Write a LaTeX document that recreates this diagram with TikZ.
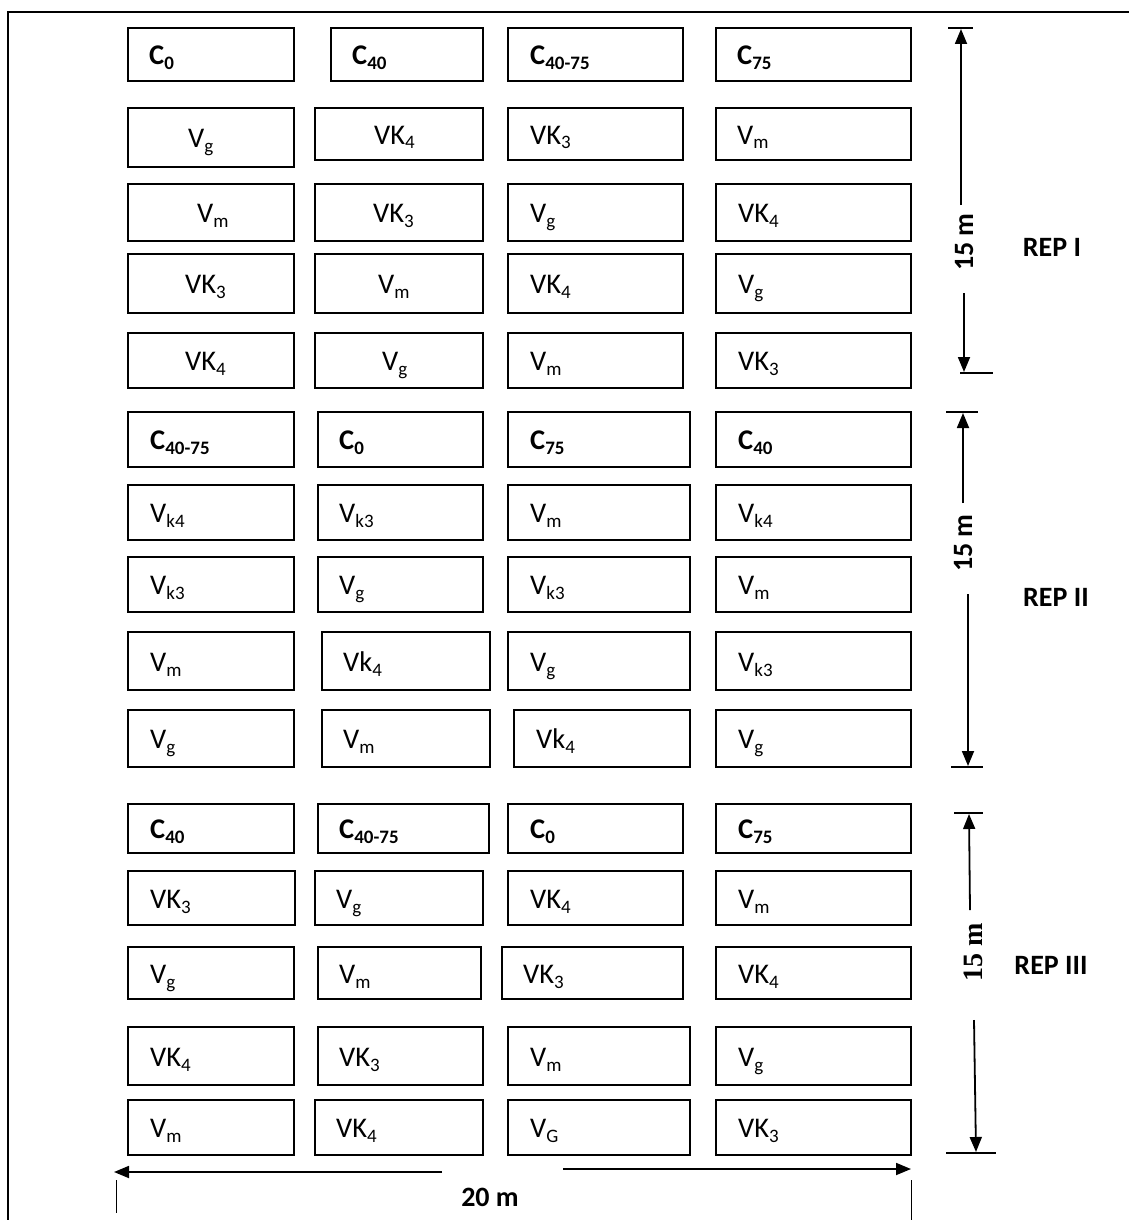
\documentclass[tikz,border=0pt]{standalone}
\usepackage{fontspec}
\setmainfont{Carlito}
\newfontfamily\serifbold{Liberation Serif}
\usetikzlibrary{arrows.meta}
\newcommand\lowtx[1]{\raisebox{-5pt}{\fontsize{19}{19}\selectfont #1}}
\newcommand\pbox[7]{%
  \node[plotbox, minimum width={#4-#2}, minimum height={#5-#3}] (#1) at ({(#2+#4)/2},{(#3+#5)/2}) {};
  \node[lbl] (#1t) at (#6,{(#3+#5)/2+10}) {#7};
}
\tikzset{
  plotbox/.style={draw, line width=1.6pt, inner sep=0pt, outer sep=0pt},
  lbl/.style={anchor=base west, inner sep=0pt, font=\fontsize{28.5}{32}\selectfont},
  dimarrow/.style={line width=1.8pt, -{Triangle[length=15pt,width=12pt]}},
  tickline/.style={line width=1.4pt},
  boldlbl/.style={inner sep=0pt, font=\fontsize{28}{31}\selectfont\bfseries}
}
\begin{document}
\begin{tikzpicture}[x=1pt,y=-1pt]
\useasboundingbox (0,0) rectangle (1129,1220);
% frame
\draw[line width=1.5pt] (8,1220) -- (8,12) -- (1129,12);

% ---------------- REP I ----------------
\pbox{Ia1}{128}{28}{294}{81}{149}{\textbf{C\lowtx{0}}}
\pbox{Ia2}{331}{28}{483}{81}{352}{\textbf{C\lowtx{40}}}
\pbox{Ia3}{508}{28}{683}{81}{530}{\textbf{C\lowtx{40-75}}}
\pbox{Ia4}{716}{28}{911}{81}{737}{\textbf{C\lowtx{75}}}

\pbox{Ib1}{128}{108}{294}{167}{188}{V\lowtx{g}}
\pbox{Ib2}{315}{108}{483}{160}{374}{VK\lowtx{4}}
\pbox{Ib3}{508}{108}{683}{160}{530}{VK\lowtx{3}}
\pbox{Ib4}{716}{108}{911}{160}{737}{V\lowtx{m}}

\pbox{Ic1}{128}{184}{294}{241}{197}{V\lowtx{m}}
\pbox{Ic2}{315}{184}{483}{241}{373}{VK\lowtx{3}}
\pbox{Ic3}{508}{184}{683}{241}{530}{V\lowtx{g}}
\pbox{Ic4}{716}{184}{911}{241}{738}{VK\lowtx{4}}

\pbox{Id1}{128}{254}{294}{313}{185}{VK\lowtx{3}}
\pbox{Id2}{315}{254}{483}{313}{378}{V\lowtx{m}}
\pbox{Id3}{508}{254}{683}{313}{530}{VK\lowtx{4}}
\pbox{Id4}{716}{254}{911}{313}{738}{V\lowtx{g}}

\pbox{Ie1}{128}{333}{294}{388}{185}{VK\lowtx{4}}
\pbox{Ie2}{315}{333}{483}{388}{382}{V\lowtx{g}}
\pbox{Ie3}{508}{333}{683}{388}{530}{V\lowtx{m}}
\pbox{Ie4}{716}{333}{911}{388}{738}{VK\lowtx{3}}

% ---------------- REP II ----------------
\pbox{IIa1}{128}{412}{294}{467}{150}{\textbf{C\lowtx{40-75}}}
\pbox{IIa2}{318}{412}{483}{467}{339}{\textbf{C\lowtx{0}}}
\pbox{IIa3}{508}{412}{690}{467}{530}{\textbf{C\lowtx{75}}}
\pbox{IIa4}{716}{412}{911}{467}{738}{\textbf{C\lowtx{40}}}

\pbox{IIb1}{128}{485}{294}{540}{150}{V\lowtx{k4}}
\pbox{IIb2}{318}{485}{483}{540}{339}{V\lowtx{k3}}
\pbox{IIb3}{508}{485}{690}{540}{530}{V\lowtx{m}}
\pbox{IIb4}{716}{485}{911}{540}{738}{V\lowtx{k4}}

\pbox{IIc1}{128}{557}{294}{612}{150}{V\lowtx{k3}}
\pbox{IIc2}{318}{557}{483}{612}{339}{V\lowtx{g}}
\pbox{IIc3}{508}{557}{690}{612}{530}{V\lowtx{k3}}
\pbox{IIc4}{716}{557}{911}{612}{738}{V\lowtx{m}}

\pbox{IId1}{128}{632}{294}{690}{150}{V\lowtx{m}}
\pbox{IId2}{322}{632}{490}{690}{343}{Vk\lowtx{4}}
\pbox{IId3}{508}{632}{690}{690}{530}{V\lowtx{g}}
\pbox{IId4}{716}{632}{911}{690}{738}{V\lowtx{k3}}

\pbox{IIe1}{128}{710}{294}{767}{150}{V\lowtx{g}}
\pbox{IIe2}{322}{710}{490}{767}{343}{V\lowtx{m}}
\pbox{IIe3}{514}{710}{690}{767}{536}{Vk\lowtx{4}}
\pbox{IIe4}{716}{710}{911}{767}{738}{V\lowtx{g}}

% ---------------- REP III ----------------
\pbox{IIIa1}{128}{804}{294}{853}{150}{\textbf{C\lowtx{40}}}
\pbox{IIIa2}{318}{804}{489}{853}{339}{\textbf{C\lowtx{40-75}}}
\pbox{IIIa3}{508}{804}{683}{853}{530}{\textbf{C\lowtx{0}}}
\pbox{IIIa4}{716}{804}{911}{853}{738}{\textbf{C\lowtx{75}}}

\pbox{IIIb1}{128}{871}{295}{925}{150}{VK\lowtx{3}}
\pbox{IIIb2}{315}{871}{483}{925}{336}{V\lowtx{g}}
\pbox{IIIb3}{508}{871}{683}{925}{530}{VK\lowtx{4}}
\pbox{IIIb4}{716}{871}{911}{925}{738}{V\lowtx{m}}

\pbox{IIIc1}{128}{947}{294}{999}{150}{V\lowtx{g}}
\pbox{IIIc2}{318}{947}{481}{999}{339}{V\lowtx{m}}
\pbox{IIIc3}{502}{947}{683}{999}{523}{VK\lowtx{3}}
\pbox{IIIc4}{716}{947}{911}{999}{738}{VK\lowtx{4}}

\pbox{IIId1}{128}{1027}{294}{1085}{150}{VK\lowtx{4}}
\pbox{IIId2}{318}{1027}{483}{1085}{339}{VK\lowtx{3}}
\pbox{IIId3}{508}{1027}{690}{1085}{530}{V\lowtx{m}}
\pbox{IIId4}{716}{1027}{911}{1085}{738}{V\lowtx{g}}

\pbox{IIIe1}{128}{1100}{294}{1155}{150}{V\lowtx{m}}
\pbox{IIIe2}{315}{1100}{483}{1155}{336}{VK\lowtx{4}}
\pbox{IIIe3}{508}{1100}{690}{1155}{530}{V\lowtx{G}}
\pbox{IIIe4}{716}{1100}{911}{1155}{738}{VK\lowtx{3}}

% ---------------- dimension REP I ----------------
\draw[tickline] (948,28) -- (973,28);
\draw[tickline] (960,373) -- (993,373);
\coordinate (d1top) at (961,29);
\coordinate (d1u) at (961,205);
\coordinate (d1l) at (964,293);
\coordinate (d1bot) at (964,372);
\draw[dimarrow] (d1u) -- (d1top);
\draw[dimarrow] (d1l) -- (d1bot);
\node[boldlbl, rotate=90] (m1) at (964,242) {15 m};
\node[boldlbl] (rep1) at (1052,247) {REP I};

% ---------------- dimension REP II ----------------
\draw[tickline] (946,412) -- (978,412);
\draw[tickline] (951,767) -- (983,767);
\coordinate (d2top) at (963,413);
\coordinate (d2u) at (963,503);
\coordinate (d2l) at (968,594);
\coordinate (d2bot) at (968,766);
\draw[dimarrow] (d2u) -- (d2top);
\draw[dimarrow] (d2l) -- (d2bot);
\node[boldlbl, rotate=90] (m2) at (963,543) {15 m};
\node[boldlbl] (rep2) at (1056,597) {REP II};

% ---------------- dimension REP III ----------------
\draw[tickline] (954,813) -- (983,813);
\draw[tickline] (946,1153) -- (996,1153);
\coordinate (d3top) at (969,814);
\coordinate (d3u) at (970,910);
\coordinate (d3l) at (974,1020);
\coordinate (d3bot) at (976,1152);
\draw[dimarrow] (d3u) -- (d3top);
\draw[dimarrow] (d3l) -- (d3bot);
\node[inner sep=0pt, rotate=90, font=\fontsize{28}{31}\selectfont\serifbold\bfseries] (m3) at (973,952) {15 m};
\node[boldlbl] (rep3) at (1051,965) {REP III};

% ---------------- bottom 20 m ----------------
\coordinate (bl0) at (442,1172);
\coordinate (bl1) at (114,1172);
\coordinate (br0) at (563,1169);
\coordinate (br1) at (911,1169);
\draw[dimarrow] (bl0) -- (bl1);
\draw[dimarrow] (br0) -- (br1);
\draw[line width=1pt] (116,1180) -- (116,1213);
\draw[line width=1pt] (911,1180) -- (911,1220);
\node[boldlbl] (w20) at (490,1197) {20 m};
\end{tikzpicture}
\end{document}
